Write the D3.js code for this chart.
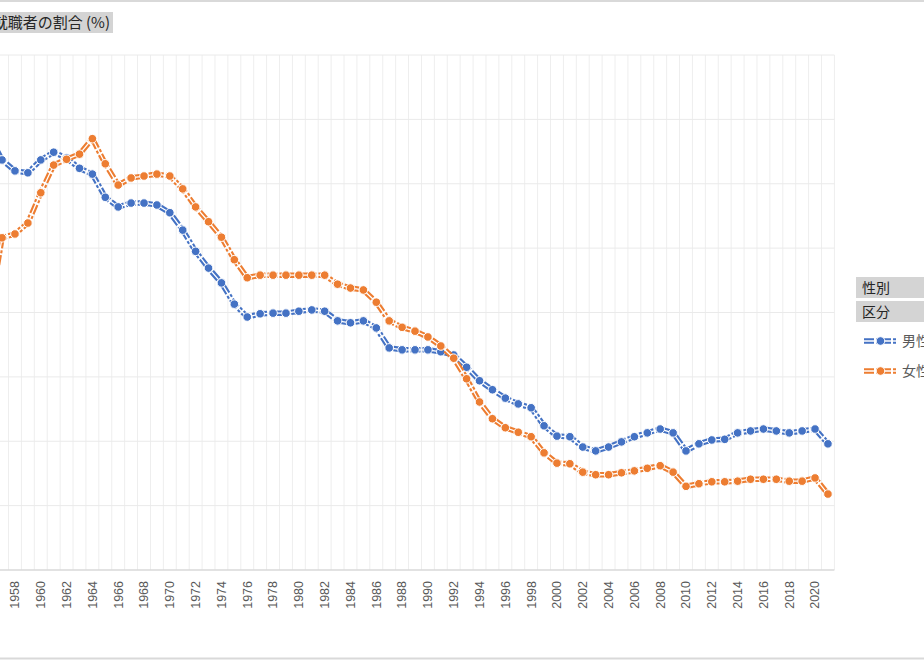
<!DOCTYPE html>
<html>
<head>
<meta charset="utf-8">
<script src="https://cdn.jsdelivr.net/npm/d3@7"></script>
<style>
  body { margin: 0; background: #fff; }
  #chart { width: 924px; height: 660px; }
</style>
</head>
<body>
<div id="chart"></div>
<script>
// years shown on the category axis (left part of the chart is cut off)
let years = d3.range(1956, 2022);

let male = [
  67.6, 63.7, 62.0, 61.7, 63.7, 64.9, 64.0, 62.4, 61.5, 57.9,
  56.4, 57.0, 57.0, 56.7, 55.5, 52.8, 49.5, 46.9, 44.6, 41.3,
  39.3, 39.8, 39.9, 39.9, 40.2, 40.4, 40.2, 38.7, 38.4, 38.7,
  37.6, 34.5, 34.2, 34.2, 34.2, 33.9, 33.4, 31.5, 29.4, 28.0,
  26.7, 25.8, 25.2, 22.4, 20.8, 20.7, 19.1, 18.5, 19.1, 19.9,
  20.7, 21.3, 21.9, 21.3, 18.5, 19.6, 20.2, 20.3, 21.3, 21.6,
  21.9, 21.6, 21.3, 21.6, 21.9, 19.6
];

let female = [
  39.6, 51.6, 52.2, 53.9, 58.6, 62.9, 63.8, 64.6, 67.0, 63.1,
  59.8, 60.9, 61.2, 61.5, 61.2, 59.2, 56.4, 54.1, 51.7, 48.2,
  45.4, 45.8, 45.8, 45.8, 45.8, 45.8, 45.8, 44.4, 43.8, 43.5,
  41.6, 38.7, 37.7, 37.1, 36.2, 34.8, 32.9, 29.7, 26.1, 23.5,
  22.1, 21.4, 20.7, 18.2, 16.6, 16.5, 15.2, 14.8, 14.8, 15.1,
  15.4, 15.8, 16.2, 15.2, 13.0, 13.4, 13.7, 13.7, 13.8, 14.1,
  14.1, 14.1, 13.8, 13.8, 14.3, 11.8
];

let yTicks = [0, 10, 20, 30, 40, 50, 60, 70, 80];
let seriesNames = ['男性', '女性'];
let seriesColors = ['#4472C4', '#ED7D31'];

let title = '就職者の割合 (%)';
let legendHeaders = ['性別', '区分'];

function draw_chart() {
  let width = 924, height = 660;
  let svg = d3.select('#chart').append('svg')
    .attr('width', width)
    .attr('height', height)
    .style('font-family', '"Liberation Sans", Arial, sans-serif');

  let plot = {left: -17.3, right: 834.4, top: 55, bottom: 570};

  let x = d3.scaleBand()
    .domain(years)
    .range([plot.left, plot.right])
    .padding(0);
  let y = d3.scaleLinear()
    .domain([0, 80])
    .range([plot.bottom, plot.top]);

  // outer frame lines
  svg.append('line').attr('x1', 0).attr('x2', width).attr('y1', 1).attr('y2', 1)
    .attr('stroke', '#d9d9d9').attr('stroke-width', 2);
  svg.append('line').attr('x1', 0).attr('x2', width).attr('y1', 658.5).attr('y2', 658.5)
    .attr('stroke', '#d9d9d9').attr('stroke-width', 2);

  // gridlines
  let grid = svg.append('g').attr('class', 'grid');
  grid.selectAll('.vgrid')
    .data(years)
    .enter()
    .append('line')
    .attr('x1', d => x(d) + x.bandwidth())
    .attr('x2', d => x(d) + x.bandwidth())
    .attr('y1', plot.top)
    .attr('y2', plot.bottom)
    .attr('stroke', '#eeeeee')
    .attr('stroke-width', 1);
  grid.selectAll('.hgrid')
    .data(yTicks.slice(1))
    .enter()
    .append('line')
    .attr('x1', 0)
    .attr('x2', plot.right)
    .attr('y1', d => y(d))
    .attr('y2', d => y(d))
    .attr('stroke', '#eaeaea')
    .attr('stroke-width', 1);

  // x axis (only the labels that fall inside the visible area)
  let xAxis = d3.axisBottom(x)
    .tickValues(years.filter(d => d % 2 === 0 && d >= 1958))
    .tickSize(0);
  let gx = svg.append('g')
    .attr('transform', `translate(0,${plot.bottom})`)
    .call(xAxis);
  gx.select('.domain').remove();
  gx.append('line')
    .attr('x1', 0).attr('x2', plot.right)
    .attr('stroke', '#d9d9d9').attr('stroke-width', 1.5);
  gx.selectAll('text')
    .attr('transform', 'rotate(-90)')
    .attr('x', -11)
    .attr('y', 0)
    .attr('dy', '0.35em')
    .attr('text-anchor', 'end')
    .attr('fill', '#595959')
    .style('font-size', '12.5px');

  // series
  let series = [male, female];
  let line = d3.line()
    .x((d, i) => x(years[i]) + x.bandwidth() / 2)
    .y(d => y(d));

  let lines = svg.append('g').attr('class', 'series');
  series.forEach((vals, k) => {
    let g = lines.append('g');
    g.append('path')
      .datum(vals)
      .attr('d', line)
      .attr('fill', 'none')
      .attr('stroke', seriesColors[k])
      .attr('stroke-width', 5.5)
      .attr('stroke-linejoin', 'round')
      .attr('stroke-dasharray', '10,2,3,2');
    g.append('path')
      .datum(vals)
      .attr('d', line)
      .attr('fill', 'none')
      .attr('stroke', '#fff')
      .attr('stroke-width', 1.3)
      .attr('stroke-linejoin', 'round');
    g.selectAll('circle')
      .data(vals)
      .enter()
      .append('circle')
      .attr('cx', (d, i) => x(years[i]) + x.bandwidth() / 2)
      .attr('cy', d => y(d))
      .attr('r', 4.3)
      .attr('fill', seriesColors[k])
      .attr('stroke', '#fff')
      .attr('stroke-width', 1);
  });

  // title button
  let tg = svg.append('g');
  tg.append('rect')
    .attr('x', -5).attr('y', 12).attr('width', 118).attr('height', 21)
    .attr('fill', '#d4d4d4');
  tg.append('text')
    .attr('x', 110).attr('y', 28)
    .attr('text-anchor', 'end')
    .attr('fill', '#262626')
    .style('font-family', '"Noto Sans CJK JP", sans-serif')
    .style('font-size', '15px')
    .text(title);

  // legend
  let lg = svg.append('g');
  legendHeaders.forEach((h, i) => {
    lg.append('rect')
      .attr('x', 856).attr('y', 277 + i * 24).attr('width', 80).attr('height', 21)
      .attr('fill', '#d4d4d4');
    lg.append('text')
      .attr('x', 862).attr('y', 293 + i * 24)
      .attr('fill', '#262626')
      .style('font-family', '"Noto Sans CJK JP", sans-serif')
      .style('font-size', '14px')
      .text(h);
  });
  seriesNames.forEach((name, i) => {
    let ly = 341 + i * 30;
    lg.append('line')
      .attr('x1', 864).attr('x2', 897).attr('y1', ly).attr('y2', ly)
      .attr('stroke', seriesColors[i]).attr('stroke-width', 5.5)
      .attr('stroke-dasharray', '10,2,3,2');
    lg.append('line')
      .attr('x1', 864).attr('x2', 897).attr('y1', ly).attr('y2', ly)
      .attr('stroke', '#fff').attr('stroke-width', 1.3);
    lg.append('circle')
      .attr('cx', 880.5).attr('cy', ly).attr('r', 4.3)
      .attr('fill', seriesColors[i]).attr('stroke', '#fff').attr('stroke-width', 1);
    lg.append('text')
      .attr('x', 902).attr('y', ly + 5)
      .attr('fill', '#595959')
      .style('font-family', '"Noto Sans CJK JP", sans-serif')
      .style('font-size', '14px')
      .text(name);
  });
}

draw_chart();
</script>
</body>
</html>
